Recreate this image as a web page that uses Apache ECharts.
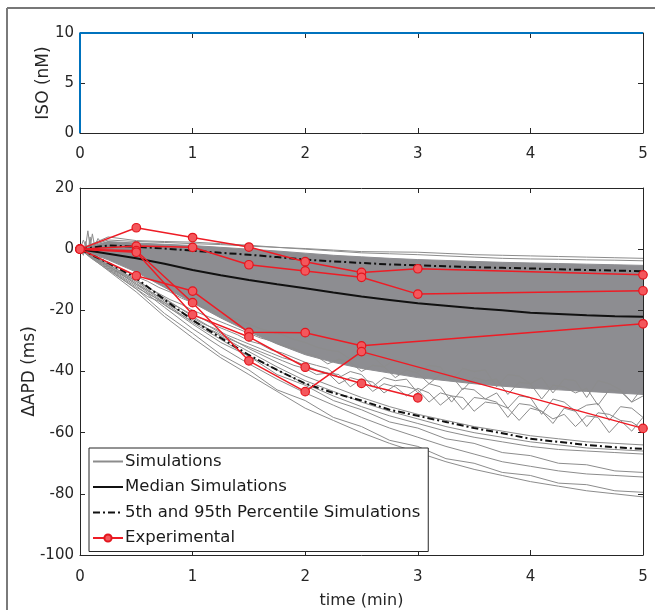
<!DOCTYPE html>
<html>
<head>
<meta charset="utf-8">
<script src="https://cdn.jsdelivr.net/npm/echarts@6/dist/echarts.min.js"></script>
<style>
html,body{margin:0;padding:0;background:#fff;}
#chart{width:655px;height:610px;}
</style>
</head>
<body>
<div id="chart"></div>
<script>
// ---------- DATA ----------
const isoTime = [0, 0, 5];
const isoConc = [0, 10, 10];

// simulation time grid (min)
const simT = [0,0.25,0.5,0.75,1,1.25,1.5,1.75,2,2.25,2.5,2.75,3,3.25,3.5,3.75,4,4.25,4.5,4.75,5];

// dense simulation band (upper / lower edge of the solid grey region)
const bandUpper = [0,2.5,2,1.6,1.2,0.6,0,-0.6,-1.3,-2,-2.5,-3,-3.4,-3.7,-4,-4.3,-4.5,-4.7,-4.9,-5.1,-5.3];
const bandLower = [0,-3.5,-7.5,-12.5,-17.5,-22.5,-27,-31,-34.5,-37,-39,-40.5,-42,-43,-44,-44.8,-45.5,-46,-46.5,-47,-47.5];

// median, 5th and 95th percentile simulations
const medianSim = [0,-1.5,-3,-4.8,-6.8,-8.5,-10.1,-11.5,-12.8,-14.2,-15.5,-16.6,-17.7,-18.5,-19.3,-20,-20.8,-21.2,-21.6,-21.9,-22.1];
const pct5Sim   = [0,1.2,0.8,0.2,-0.5,-1.2,-1.8,-2.6,-3.4,-4,-4.5,-5,-5.3,-5.6,-5.9,-6.1,-6.3,-6.6,-6.8,-7,-7.2];
const pct95Sim  = [0,-4.5,-9.5,-16.5,-23.2,-29,-34.6,-39.5,-43.9,-47,-49.5,-52.5,-54.5,-56.5,-58.5,-60.2,-62,-63,-64,-64.8,-65.3];

// individual simulations outside the dense band
const simU1 = [0,3,2.5,2.2,1.8,1.5,1,0.6,0.2,-0.3,-0.8,-0.9,-1,-1.4,-1.8,-2,-2.2,-2.4,-2.6,-2.8,-3];
const simU2 = [0,4,2.8,2.5,2.3,1.8,1.3,0.6,0,-0.6,-1.2,-1.5,-1.8,-2.2,-2.6,-3,-3.2,-3.3,-3.5,-3.6,-3.8];
const simL1 = [0,-7,-14,-22,-29,-35.5,-41,-46.5,-52,-56,-60,-63.5,-66.5,-69.5,-72,-74,-76,-77.5,-79,-80,-81];
const simL2 = [0,-6.5,-13,-21,-27.5,-34.5,-39.5,-46,-49.5,-55,-58,-62.5,-64.5,-68.5,-70,-73,-74,-76.5,-77,-79,-79.5];
const simL3 = [0,-6,-12,-19,-26,-32,-37.5,-42.5,-47,-51,-55,-58.5,-61.5,-64.5,-67,-69.5,-71,-72.5,-73.5,-74,-74.5];
const simL4 = [0,-5.5,-11.5,-18,-24.5,-30.5,-35,-41,-44.5,-49.5,-52.5,-56.5,-58.5,-62,-63.5,-66.5,-67.5,-70,-70.5,-72.5,-73];
const simL5 = [0,-5.5,-11,-17.5,-24,-29.5,-35,-39.5,-44,-48,-51.5,-54.5,-57,-59.5,-61.5,-63,-64.5,-65.5,-66,-66.5,-67];
const simL6 = [0,-5,-10.5,-17,-23,-28.5,-33.5,-38.5,-43,-46.5,-50,-53,-55.5,-58,-60,-61.5,-63,-64,-65,-65.5,-66];
const simL7 = [0,-5,-10,-16,-22,-27.5,-32.5,-37,-41.5,-45,-48.5,-51.5,-54,-56,-58,-59.5,-61,-62,-63,-63.5,-64];

// noisy simulations (0.1 min sampling)
const noiseT = [0,0.1,0.2,0.3,0.4,0.5,0.6,0.7,0.8,0.9,1,1.1,1.2,1.3,1.4,1.5,1.6,1.7,1.8,1.9,2,2.1,2.2,2.3,2.4,2.5,2.6,2.7,2.8,2.9,3,3.1,3.2,3.3,3.4,3.5,3.6,3.7,3.8,3.9,4,4.1,4.2,4.3,4.4,4.5,4.6,4.7,4.8,4.9,5];
const simN1 = [0,-2,-3.5,-5.5,-7,-9,-10.5,-12.5,-14,-16,-17.5,
  -19,-20.5,-22,-23,-24.5,-26,-27,-28,-29.5,-30.5,
  -32,-33,-33.5,-36,-34.5,-35,-38.5,-36,-37,-40,
  -38,-38.5,-43,-39,-40,-39.5,-45,-41,-41.5,-44,
  -42,-47,-42.5,-43,-48.5,-43,-44,-46,-50,-45];
const simN2 = [0,-2.5,-4.5,-7,-9,-11.5,-13.5,-15.5,-17.5,-19.5,-21.5,
  -23,-25,-26.5,-28,-30,-31,-33,-34,-35.5,-37,
  -38,-39,-42,-40,-41,-45,-42,-43,-42.5,-47,
  -44,-45,-50,-45.5,-46,-49,-47,-52,-48,-48.5,
  -54,-49,-50,-53,-51,-50.5,-56,-51.5,-52,-55];
const simN3 = [0,-2.8,-5,-7.5,-10,-12.5,-14.5,-16.5,-18.5,-20.5,-22.5,
  -24.5,-26,-28,-29.5,-31,-32.5,-34,-35.5,-36.5,-38,
  -39.5,-40.5,-41,-45,-42.5,-43.5,-47,-44.5,-45,-46,
  -50,-47,-48,-52.5,-48.5,-49,-50,-55,-50.5,-51,
  -53,-57,-52,-53,-58,-53.5,-54,-56,-59.5,-55];
const simN4 = [0,-3,-5.5,-8,-10.5,-13,-15.5,-17,-19.5,-21.5,-23.5,
  -25.5,-27,-29,-30.5,-32,-33.5,-35,-36.5,-38,-39,
  -41,-40.5,-44,-42,-43,-46.5,-44,-45,-48,-45.5,
  -47,-51,-48,-48.5,-53,-50,-50.5,-52,-56,-52,
  -53,-55.5,-54,-58,-54.5,-55,-60,-56,-56.5,-59];
const simN5 = [0,-2.3,-4.2,-6.5,-8.5,-10.5,-12.5,-14.5,-16.5,-18,-20,
  -21.5,-23,-24.5,-26,-27.5,-29,-30,-31.5,-32.5,-34,
  -35,-37.5,-36,-37,-40,-38,-38.5,-42,-39.5,-40.5,
  -44,-41,-41.5,-46,-42,-43,-42.5,-47.5,-43.5,-44,
  -49,-44.5,-45,-47,-45.5,-51,-46,-46.5,-50,-48];

// early spikes of the simulations near t = 0
const spikeT  = [0,0.03,0.05,0.07,0.09,0.11,0.13,0.16,0.2,0.25,0.3];
const spikeV1 = [0,3,1,6,0.5,5,1,3.5,1.5,2.5,1.5];
const spikeV2 = [0,-2,2.5,-1,4,-3,1.5,-4,-2,-3,-4];

// experimental data
const expT = [0,0.5,1,1.5,2,2.5,3,5];
const expA = [0,7.0,3.8,0.7,-4.1,-7.6,-6.4,-8.4];
const expB = [0,1.0,0.6,-5.1,-7.1,-9.2,-14.7,-13.6];
const expC = [0,-8.7,-13.7,-27.2,-27.3,-31.6,null,-24.4];
const expD = [0,-0.5,-17.5,-36.5,-46.6,-33.5,null,-58.6];
const expE = [0,-1.0,-21.4,-28.7,-38.6,-43.9,-48.6,null];

// ---------- CHART ----------
const FONT = '"DejaVu Sans", Verdana, sans-serif';
const AX = '#262626';
const SIMC = '#8c8c8c';
const BANDC = '#8d8d91';

function pairs(t, v){ return t.map((x,i)=>[x, v[i]]); }

const chart = echarts.init(document.getElementById('chart'), null, {renderer:'canvas'});

function simLine(t, v){
  return {name:'Simulations', type:'line', xAxisIndex:2, yAxisIndex:2, data:pairs(t,v),
    symbol:'none', lineStyle:{color:SIMC, width:1}, itemStyle:{color:SIMC}, z:2, silent:true, animation:false};
}
function expLine(v){
  return {name:'Experimental', type:'line', xAxisIndex:2, yAxisIndex:2, data:pairs(expT,v),
    connectNulls:true, symbol:'circle', symbolSize:8.5,
    lineStyle:{color:'#ee1c25', width:1.5},
    itemStyle:{color:'#f4575c', borderColor:'#e3161e', borderWidth:1.2}, z:10, animation:false};
}
const pctStyle = {color:'#111', width:2, type:[7,3,2,3]};

const series = [
  {name:'ISO', type:'line', xAxisIndex:0, yAxisIndex:0, data:pairs(isoTime, isoConc),
   symbol:'none', lineStyle:{color:'#0072BD', width:2}, z:10, clip:false, animation:false},
  // dense band drawn as one polygon through the axis scales
  {name:'band', type:'custom', coordinateSystem:'cartesian2d', xAxisIndex:2, yAxisIndex:2,
   data:[[0,0]], silent:true, z:1, animation:false,
   renderItem:function(params, api){
     const pts = [];
     for (let i=0;i<simT.length;i++) pts.push(api.coord([simT[i], bandUpper[i]]));
     for (let i=simT.length-1;i>=0;i--) pts.push(api.coord([simT[i], bandLower[i]]));
     return {type:'polygon', shape:{points:pts}, style:{fill:BANDC, stroke:BANDC, lineWidth:1}};
   }},
  simLine(simT, simU1), simLine(simT, simU2),
  simLine(simT, simL1), simLine(simT, simL2), simLine(simT, simL3), simLine(simT, simL4),
  simLine(simT, simL5), simLine(simT, simL6), simLine(simT, simL7),
  simLine(noiseT, simN1), simLine(noiseT, simN2), simLine(noiseT, simN3), simLine(noiseT, simN4), simLine(noiseT, simN5),
  simLine(spikeT, spikeV1), simLine(spikeT, spikeV2),
  {name:'Median Simulations', type:'line', xAxisIndex:2, yAxisIndex:2, data:pairs(simT, medianSim),
   symbol:'none', lineStyle:{color:'#111', width:2}, itemStyle:{color:'#111'}, z:5, animation:false},
  {name:'5th and 95th Percentile Simulations', type:'line', xAxisIndex:2, yAxisIndex:2, data:pairs(simT, pct5Sim),
   symbol:'none', lineStyle:pctStyle, itemStyle:{color:'#111'}, z:5, animation:false},
  {name:'5th and 95th Percentile Simulations', type:'line', xAxisIndex:2, yAxisIndex:2, data:pairs(simT, pct95Sim),
   symbol:'none', lineStyle:pctStyle, itemStyle:{color:'#111'}, z:5, animation:false},
  expLine(expA), expLine(expB), expLine(expC), expLine(expD), expLine(expE)
];

function xAx(grid, pos, showLabel, name, margin){
  return {type:'value', gridIndex:grid, position:pos, min:0, max:5, interval:1, z:8,
    axisLine:{show:true, onZero:false, lineStyle:{color:AX, width:1}},
    axisTick:{show:true, inside:true, length:5, lineStyle:{color:AX}},
    axisLabel:{show:showLabel, color:AX, fontSize:15, fontFamily:FONT, margin:margin||15},
    splitLine:{show:false},
    name:name||'', nameLocation:'middle', nameGap:38, nameMoveOverlap:false,
    nameTextStyle:{color:AX, fontSize:16, fontFamily:FONT}};
}
function yAx(grid, pos, min, max, interval, showLabel, name, gap){
  return {type:'value', gridIndex:grid, position:pos, min:min, max:max, interval:interval, z:8,
    axisLine:{show:true, onZero:false, lineStyle:{color:AX, width:1}},
    axisTick:{show:true, inside:true, length:5, lineStyle:{color:AX}},
    axisLabel:{show:showLabel, color:AX, fontSize:15, fontFamily:FONT, margin:6},
    splitLine:{show:false},
    name:name||'', nameLocation:'middle', nameGap:gap||30, nameMoveOverlap:false,
    nameTextStyle:{color:AX, fontSize:17, fontFamily:FONT}};
}

const hideSym = {opacity:0};
const option = {
  backgroundColor:'#fff',
  animation:false,
  textStyle:{fontFamily:FONT},
  grid:[
    {left:80, top:33, width:563, height:100, outerBoundsMode:'none', containLabel:false},
    {left:80, top:188, width:563, height:367, outerBoundsMode:'none', containLabel:false}
  ],
  xAxis:[
    xAx(0,'bottom',true,'',14),
    xAx(0,'top',false),
    xAx(1,'bottom',true,'time (min)',15),
    xAx(1,'top',false)
  ],
  yAxis:[
    yAx(0,'left',0,10,5,true,'ISO (nM)',28),
    yAx(0,'right',0,10,5,false),
    yAx(1,'left',-100,20,20,true,'ΔAPD (ms)',42),
    yAx(1,'right',-100,20,20,false)
  ],
  legend:{
    data:[
      {name:'Simulations', itemStyle:hideSym},
      {name:'Median Simulations', itemStyle:hideSym},
      {name:'5th and 95th Percentile Simulations', itemStyle:hideSym},
      {name:'Experimental'}
    ],
    orient:'vertical', left:89, top:448,
    itemWidth:30, itemHeight:9, itemGap:8.5,
    padding:[5,8,5,3],
    borderColor:AX, borderWidth:1, backgroundColor:'#fff',
    textStyle:{color:'#1a1a1a', fontSize:16.5, fontFamily:FONT, lineHeight:16, padding:[0,0,0,-3]},
    selectedMode:false, z:20
  },
  graphic:[
    {type:'line', shape:{x1:7, y1:8, x2:655, y2:8}, style:{stroke:'#4a4a4a', lineWidth:1.5}, z:30},
    {type:'line', shape:{x1:7, y1:8, x2:7, y2:610}, style:{stroke:'#7a7a7a', lineWidth:2}, z:30}
  ],
  series:series
};
chart.setOption(option);
</script>
</body>
</html>
